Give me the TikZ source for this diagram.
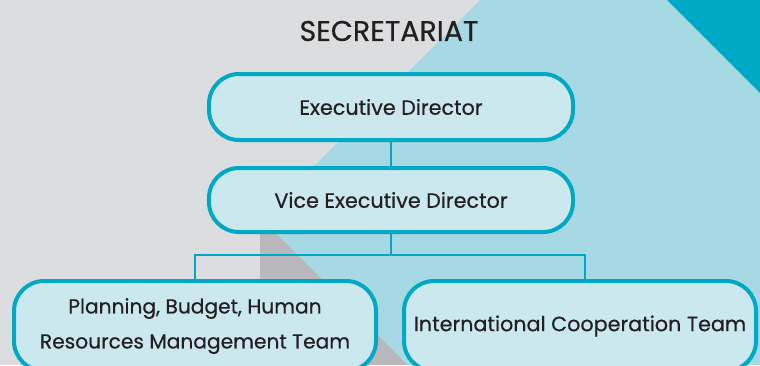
\documentclass[tikz,border=0pt]{standalone}
\usepackage{fontspec}
\setmainfont{Poppins}[FakeBold=0.5]
\definecolor{bggrey}{HTML}{DCDDDF}
\definecolor{lightblue}{HTML}{A7D9E4}
\definecolor{darkgrey}{HTML}{B9B9BD}
\definecolor{tealc}{HTML}{00A9C3}
\definecolor{boxfill}{HTML}{CAE8EE}
\definecolor{txt}{HTML}{231F20}
\begin{document}
\begin{tikzpicture}[x=1pt,y=-1pt,
  box/.style={draw=tealc, fill=boxfill, line width=4pt, rounded corners=30pt,
    text=txt, font=\fontsize{20.7}{35}\selectfont, align=center, inner sep=0pt},
  conn/.style={draw=tealc, line width=2pt}]
\useasboundingbox (0,0) rectangle (760,365);
\clip (0,0) rectangle (760,365);
\fill[bggrey] (0,0) rectangle (760,365);
\fill[lightblue] (480,0) -- (760,0) -- (760,365) -- (408,365) -- (261.5,218.5) -- cycle;
\fill[darkgrey] (260,217) -- (408,365) -- (260,365) -- cycle;
\fill[tealc] (667,0) -- (760,0) -- (760,93) -- cycle;
\node[text=txt, font=\fontsize{28.5}{32}\selectfont] (title) at (389,31) {SECRETARIAT};
\node[box, minimum width=364pt, minimum height=66pt] (ED) at (391,107) {Executive Director};
\node[box, minimum width=364pt, minimum height=64pt] (VED) at (391,200) {Vice Executive Director};
\node[box, minimum width=362pt, minimum height=90pt, font=\fontsize{20.2}{35}\selectfont] (PB) at (195,326) {Planning, Budget, Human\\Resources Management Team};
\node[box, minimum width=352pt, minimum height=90pt] (ICT) at (580,326) {International Cooperation Team};
\coordinate (bar) at (391,255);
\draw[conn] (ED.south) -- (VED.north);
\draw[conn] (VED.south) -- (bar);
\draw[conn] (PB.north) |- (bar) -| ([xshift=5pt]ICT.north);
\end{tikzpicture}
\end{document}
